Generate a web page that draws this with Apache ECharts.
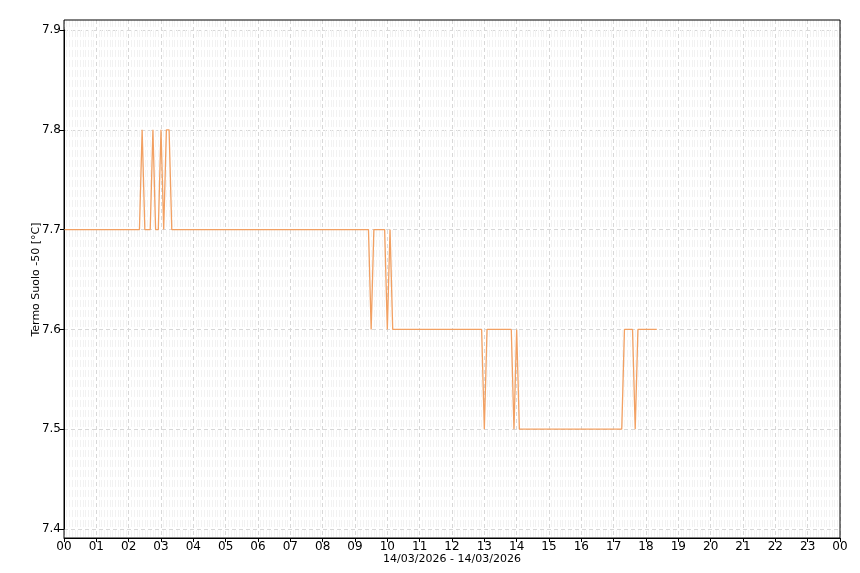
<!DOCTYPE html>
<html>
<head>
<meta charset="utf-8">
<script src="https://cdn.jsdelivr.net/npm/echarts@6/dist/echarts.min.js"></script>
<style>
html,body{margin:0;padding:0;background:#fff;}
#chart{width:860px;height:573px;}
</style>
</head>
<body>
<div id="chart"></div>
<script>
// Times (HH:MM) of the readings where the value changes, and the values
const times = ["00:00","02:20","02:25","02:30","02:40","02:45","02:50","02:55","03:00","03:05","03:10","03:15","03:20",
  "09:25","09:30","09:35","09:55","10:00","10:05","10:10",
  "12:55","13:00","13:05","13:50","13:55","14:00","14:05",
  "17:15","17:20","17:35","17:40","17:45","18:20"];
const values = [7.7,7.7,7.8,7.7,7.7,7.8,7.7,7.7,7.8,7.7,7.8,7.8,7.7,
  7.7,7.6,7.7,7.7,7.6,7.7,7.6,
  7.6,7.5,7.6,7.6,7.5,7.6,7.5,
  7.5,7.6,7.6,7.5,7.6,7.6];
const hourLabels = ["00","01","02","03","04","05","06","07","08","09","10","11","12","13","14","15","16","17","18","19","20","21","22","23","00"];
const yAxisName = "Termo Suolo -50 [°C]";
const xAxisName = "14/03/2026 - 14/03/2026";

function toHours(s){ const p = s.split(':'); return Number(p[0]) + Number(p[1]) / 60; }
const seriesData = times.map((t, i) => [toHours(t), values[i]]);

const chart = echarts.init(document.getElementById('chart'), null, {renderer: 'canvas'});
const font = 'DejaVu Sans';
chart.setOption({
  animation: false,
  backgroundColor: '#fff',
  textStyle: {fontFamily: font},
  grid: [
    {left: 64, right: 20, top: 30, bottom: 44, show: false},
    {left: 64, right: 20, top: 20, bottom: 35, show: true, borderColor: '#000', borderWidth: 1, backgroundColor: 'transparent', z: 10}
  ],
  xAxis: [
    {gridIndex: 0, type: 'value', min: 0, max: 24, interval: 1, show: false, splitLine: {show: false}},
    {gridIndex: 1, type: 'value', min: 0, max: 24, interval: 1,
     axisLine: {show: true, lineStyle: {color: '#000', width: 1}},
     axisTick: {show: true, length: 4, lineStyle: {color: '#000'}},
     axisLabel: {color: '#000', fontSize: 12, fontFamily: font, margin: 3,
       formatter: v => hourLabels[Math.round(v)]},
     splitLine: {show: true, lineStyle: {color: '#d8d8d8', type: [4, 3], width: 1}},
     minorTick: {show: false, splitNumber: 12},
     minorSplitLine: {show: true, lineStyle: {color: '#f2f2f2', type: [7, 3], width: 1}},
     name: xAxisName, nameLocation: 'middle', nameGap: 16, nameMoveOverlap: false,
     nameTextStyle: {color: '#000', fontSize: 11, fontFamily: font}
    }
  ],
  yAxis: [
    {gridIndex: 0, type: 'value', min: 7.4, max: 7.9, interval: 0.1,
     axisLine: {show: true, lineStyle: {color: '#000'}},
     axisTick: {show: true, length: 4, lineStyle: {color: '#000'}},
     axisLabel: {color: '#000', fontSize: 12, fontFamily: font, margin: 3,
       formatter: v => v.toFixed(1)},
     splitLine: {show: true, lineStyle: {color: '#d8d8d8', type: [4, 3], width: 1}},
     name: yAxisName, nameLocation: 'middle', nameGap: 22, nameRotate: 90, nameMoveOverlap: false,
     nameTextStyle: {color: '#000', fontSize: 11, fontFamily: font}
    },
    {gridIndex: 1, type: 'value', min: 0, max: 1, show: false, splitLine: {show: false}}
  ],
  series: [{
    type: 'line',
    xAxisIndex: 0, yAxisIndex: 0,
    data: seriesData,
    showSymbol: false,
    symbol: 'none',
    lineStyle: {color: '#f2a062', width: 1.3},
    itemStyle: {color: '#f2a062'},
    z: 5
  }]
});
</script>
</body>
</html>
